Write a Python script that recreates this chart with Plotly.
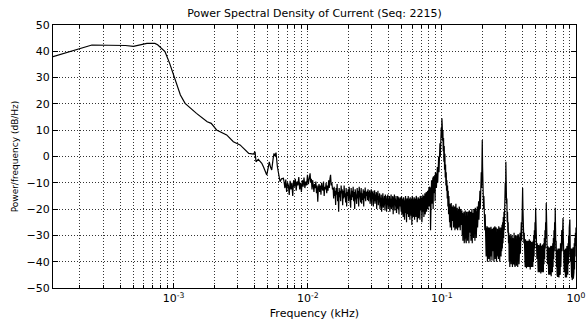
import numpy as np
import plotly.graph_objects as go

# ---- data (frequency in kHz, PSD in dB/Hz) ----
smooth_f = [1.259e-4, 2.455e-4, 4.365e-4, 5.01e-4, 6.31e-4, 7.24e-4, 7.59e-4, 8.61e-4,
            9.33e-4, 1.023e-3, 1.122e-3, 1.216e-3, 1.479e-3, 1.778e-3, 1.905e-3, 2.089e-3,
            2.483e-3, 2.786e-3, 3.126e-3, 3.631e-3, 3.926e-3, 4.046e-3, 4.111e-3, 4.276e-3,
            4.539e-3, 4.677e-3, 4.797e-3, 4.943e-3, 5.058e-3, 5.164e-3, 5.272e-3, 5.383e-3,
            5.508e-3, 5.598e-3, 5.689e-3, 5.794e-3, 5.929e-3, 6.053e-3, 6.209e-3, 6.368e-3,
            6.577e-3]
smooth_db = [38.0, 42.4, 42.2, 41.9, 43.0, 43.0, 42.5, 39.9,
             35.4, 29.1, 23.4, 20.2, 16.4, 13.2, 12.6, 10.1,
             8.2, 5.6, 4.4, 1.2, 0.9, 1.8, -2.0, -1.1,
             -2.6, -4.0, -5.8, -7.0, -4.5, -2.0, -4.0, -5.1,
             -1.0, 1.2, 0.2, 1.5, -3.8, -7.0, -9.6, -8.5,
             -8.3]

# noisy band segments (edges in kHz) below the 0.1 kHz line
low_edges = [6.65e-3, 0.0104, 0.01545, 0.02773, 0.04887, 0.08185, 0.1]
noise_b = [-9.5, -12, -8.8, -13.5, -10, -11, -14.6, -9.2, -12.5, -10, -15, -9, -11.5, -8.5,
           -13, -9.5, -11, -7.8, -12.5, -10, -13.5, -9, -11.5, -8, -12, -9.5, -11, -7,
           -10.5, -8]
noise_c1 = [-6.4, -10, -8.5, -12.5, -9, -11, -13.5, -10.5, -12, -9.5, -14, -11, -17.2, -12,
            -10.5, -13.5, -11, -14.5, -10, -12, -13, -9.5, -15, -11.5, -12.5, -10, -14, -11,
            -13, -9, -12, -8.5, -7.0, -11, -10, -12.5]
noise_c2 = [-12, -16, -11.5, -15, -13, -18.4, -12, -14.5, -10.5, -17,
            -13.5, -21, -12, -15.5, -13, -17, -11, -14, -12.5, -18.5,
            -13, -16, -11, -15.5, -14, -17.5, -12, -19, -13.5, -15,
            -12.5, -17, -11.5, -16, -14, -19.5, -12, -16.5, -13, -15.5,
            -11.5, -17, -13.5, -20, -12.5, -15, -14, -18, -12, -16,
            -13, -19, -11.5, -15.5, -13.5, -17.5, -12, -18, -14, -16.5,
            -12.5, -19, -13, -16, -11.8, -17, -13.5, -15]
noise_c3 = [-13, -16.5, -12.5, -17, -13.5, -15.5, -12.8, -18, -14, -16,
            -12.5, -18.5, -13.5, -16, -13, -19, -14, -17, -12.8, -18,
            -14.5, -17, -13.5, -20, -14, -16.5, -13, -18.5, -15, -17.5,
            -14, -20, -15.5, -18, -14.5, -21, -15, -17.5, -14, -19.5,
            -16, -18, -15, -20.5, -14.5, -17, -16, -21, -15, -18.5,
            -14.5, -20, -16, -19, -15, -21, -15.5, -18, -14.5, -20,
            -16, -19, -15, -22, -15.5, -18.5, -14.5, -20.5, -16, -19,
            -15, -21.5, -16.5, -18.5, -15, -20, -15.5, -22, -16, -19]
noise_c4 = [-15.5, -19, -16, -21, -15, -22, -17, -20, -16, -23,
            -15.5, -19.5, -17, -24, -16, -20, -15, -21.5, -17.5, -25,
            -16, -20, -16.5, -22, -15, -23, -17, -20.5, -16, -24,
            -15.5, -21, -17, -22.5, -16, -26, -15, -21, -16.5, -23,
            -17, -20, -15.5, -24, -16, -21.5, -17.5, -23, -15, -22,
            -16.5, -25, -17, -20, -15.5, -23.5, -16, -21, -17, -24,
            -15, -22, -16.5, -20.5, -15.5, -25, -16, -22, -14.5, -21,
            -15, -23, -14.5, -20, -14, -22, -14.5, -19, -13.5, -21,
            -14, -18.5, -13, -20, -12.5, -17.5, -12, -19, -11.5, -17]
noise_pre = [-12, -28, -10, -22, -9, -18, -11, -16, -8, -20, -7.5, -15, -9, -14, -7, -17,
             -6, -13, -7, -12, -5, -11, -4, -10, -2, -8, 0, -6, 2, -3, 5, 0, 8, 3, 11, 7]

# harmonic lines
harm_f = [0.1, 0.2, 0.3, 0.4, 0.5, 0.6, 0.7, 0.8, 0.9, 1.0]
harm_db = [14.5, 6.3, -2.0, -12.0, -19.5, -17.7, -19.5, -23.4, -24.0, -27.0]

seg_01_02 = [12, 6, 10, 2, 7, -2, 4, -5, 1, -8, -3, -11, -6, -13, -9, -16, -11, -19, -13,
             -22, -15,
             -19, -25, -18, -27, -20, -24, -17.7, -28, -19, -26, -21, -24.5, -18.5, -27,
             -20, -25, -19, -28, -21, -26, -18, -27.5, -20, -24, -19.5, -28, -21, -26, -20,
             -27, -19, -25.5, -21, -28, -20, -26, -22, -29, -20.5,
             -30, -21.5, -32, -22, -29, -21, -33, -23, -30, -20.5, -31, -22, -33, -21, -29,
             -24, -32, -21, -30, -22, -33, -20.5, -31, -23, -29, -21, -32, -22, -30, -20,
             -33, -21.5, -29, -22, -31, -20, -30, -21, -32, -19.5, -29, -21, -31, -20, -28,
             -19, -27, -18, -25, -17, -24, -15, -22, -13, -20, -10, -17, -6, -12, 0]
seg_02_03 = [-4, -14, -9, -20, -15, -25, -18, -28, -22, -31,
             -27, -38, -28, -36, -26.5, -40, -28, -37, -27, -39, -29, -36, -27, -40, -28,
             -38, -26.7, -37, -28, -39.5, -27.5, -36, -29, -38, -27, -40, -28.5, -37, -26.5,
             -39, -28, -36.5, -27, -40, -29, -38, -27.5, -37, -28, -39, -26.5, -36, -28,
             -40, -27, -37.5, -29, -38, -27, -36,
             -26, -35, -25, -33, -23, -31, -21, -28, -17, -24, -10, -16]
seg_03_04 = [-10, -18, -16, -25, -21, -29, -25, -33,
             -29, -40, -30, -42, -31, -39, -29.5, -41, -32, -40, -30, -42, -31, -39, -30,
             -41, -29, -40.5, -31, -42, -30, -39, -32, -41.5, -30, -40, -31, -42, -29.5,
             -39, -31, -41, -30, -40,
             -29, -37, -27, -35, -25, -32, -20, -27]
seg_04_05 = [-20, -28, -26, -33, -29, -37,
             -32, -42, -31.5, -41, -33, -42.5, -32, -40, -34, -42, -32, -41, -33, -42,
             -31.5, -40.5, -33, -43, -32, -41, -34, -42, -32.5, -41.5, -33, -42, -32, -40,
             -30, -38, -28, -35, -25, -31]
seg_05_06 = [-26, -34, -30, -39, -33, -43, -34, -44, -33.7, -42, -35, -44, -34, -43, -33,
             -44.5, -35, -43, -34, -44, -33.5, -42, -35, -44, -33, -41, -31, -39, -28, -35,
             -25, -31]
seg_06_07 = [-26, -35, -31, -41, -34, -44, -35, -45, -34.5, -43, -36, -45, -35, -44, -34,
             -45.5, -35.5, -43, -34, -44, -33, -42, -31, -39, -28, -36, -25, -32]
seg_07_08 = [-27, -36, -32, -42, -35.5, -45, -36, -45.7, -35, -44, -36, -46, -35, -44,
             -34.5, -45, -33, -42, -31, -39, -28, -36, -26, -32]
seg_08_09 = [-30, -39, -34, -44, -36, -45.5, -35.5, -46, -35, -44.5, -36, -46, -34, -43,
             -35, -45, -33, -41, -30, -38, -27, -33]
seg_09_10 = [-31, -40, -35, -45, -36, -46, -35, -47, -36, -45, -34.5, -46.5, -35, -44, -33,
             -43, -31, -38, -29, -34]

x_ticks = [1e-3, 1e-2, 1e-1, 1.0]
x_ticktext = ["10<sup>-3</sup>", "10<sup>-2</sup>", "10<sup>-1</sup>", "10<sup>0</sup>"]
y_ticks = [-50, -40, -30, -20, -10, 0, 10, 20, 30, 40, 50]

# ---- assemble the curve ----
f_all = list(smooth_f)
db_all = list(smooth_db)
for (a, b), vals in zip(zip(low_edges[:-1], low_edges[1:]),
                        [noise_b, noise_c1, noise_c2, noise_c3, noise_c4, noise_pre]):
    pos = np.geomspace(a, b, len(vals) + 1)[:-1]
    f_all += list(pos)
    db_all += list(vals)
high_segs = [seg_01_02, seg_02_03, seg_03_04, seg_04_05, seg_05_06,
             seg_06_07, seg_07_08, seg_08_09, seg_09_10]
for k, vals in enumerate(high_segs):
    f_all.append(harm_f[k]); db_all.append(harm_db[k])
    pos = np.geomspace(harm_f[k], harm_f[k + 1], len(vals) + 2)[1:-1]
    f_all += list(pos)
    db_all += list(vals)
f_all.append(harm_f[-1]); db_all.append(harm_db[-1])

minor_vals = [m * 10.0 ** e for e in (-4, -3, -2, -1) for m in range(2, 10)]

FONT = "DejaVu Sans"
fig = go.Figure()
fig.add_trace(go.Scatter(x=f_all, y=db_all, mode="lines",
                         line=dict(color="black", width=1.2), showlegend=False))

grid_col = "rgba(0,0,0,0.8)"
DOT = "1px,2px"
fig.update_layout(
    width=587, height=324,
    margin=dict(l=53, r=11, t=25, b=36),
    paper_bgcolor="white", plot_bgcolor="white",
    font=dict(family=FONT, size=11, color="black"),
    title=dict(text="Power Spectral Density of Current (Seq: 2215)",
               x=0.5, xref="paper", xanchor="center",
               y=1 - 13 / 324, yanchor="middle",
               font=dict(family=FONT, size=11, color="black")),
    xaxis=dict(type="log", range=[np.log10(1.259e-4), 0], automargin=False,
               tickvals=x_ticks, ticktext=x_ticktext,
               ticks="inside", ticklen=5, tickcolor="black",
               showline=True, linecolor="black", linewidth=1, mirror="allticks",
               showgrid=True, gridcolor=grid_col, griddash=DOT, gridwidth=1,
               minor=dict(tickvals=minor_vals, ticks="inside", ticklen=3,
                          tickcolor="black", showgrid=True, gridcolor=grid_col,
                          griddash=DOT, gridwidth=1),
               title=dict(text="Frequency (kHz)", standoff=5,
                          font=dict(family=FONT, size=11)),
               tickfont=dict(family=FONT, size=11), zeroline=False),
    yaxis=dict(range=[-50, 50], tickvals=y_ticks, automargin=False,
               ticks="inside", ticklen=5, tickcolor="black",
               showline=True, linecolor="black", linewidth=1, mirror="allticks",
               showgrid=True, gridcolor=grid_col, griddash=DOT, gridwidth=1,
               title=dict(text="Power/frequency (dB/Hz)", standoff=6,
                          font=dict(family=FONT, size=9)),
               tickfont=dict(family=FONT, size=11), zeroline=False),
)
fig.write_html("out.html")
